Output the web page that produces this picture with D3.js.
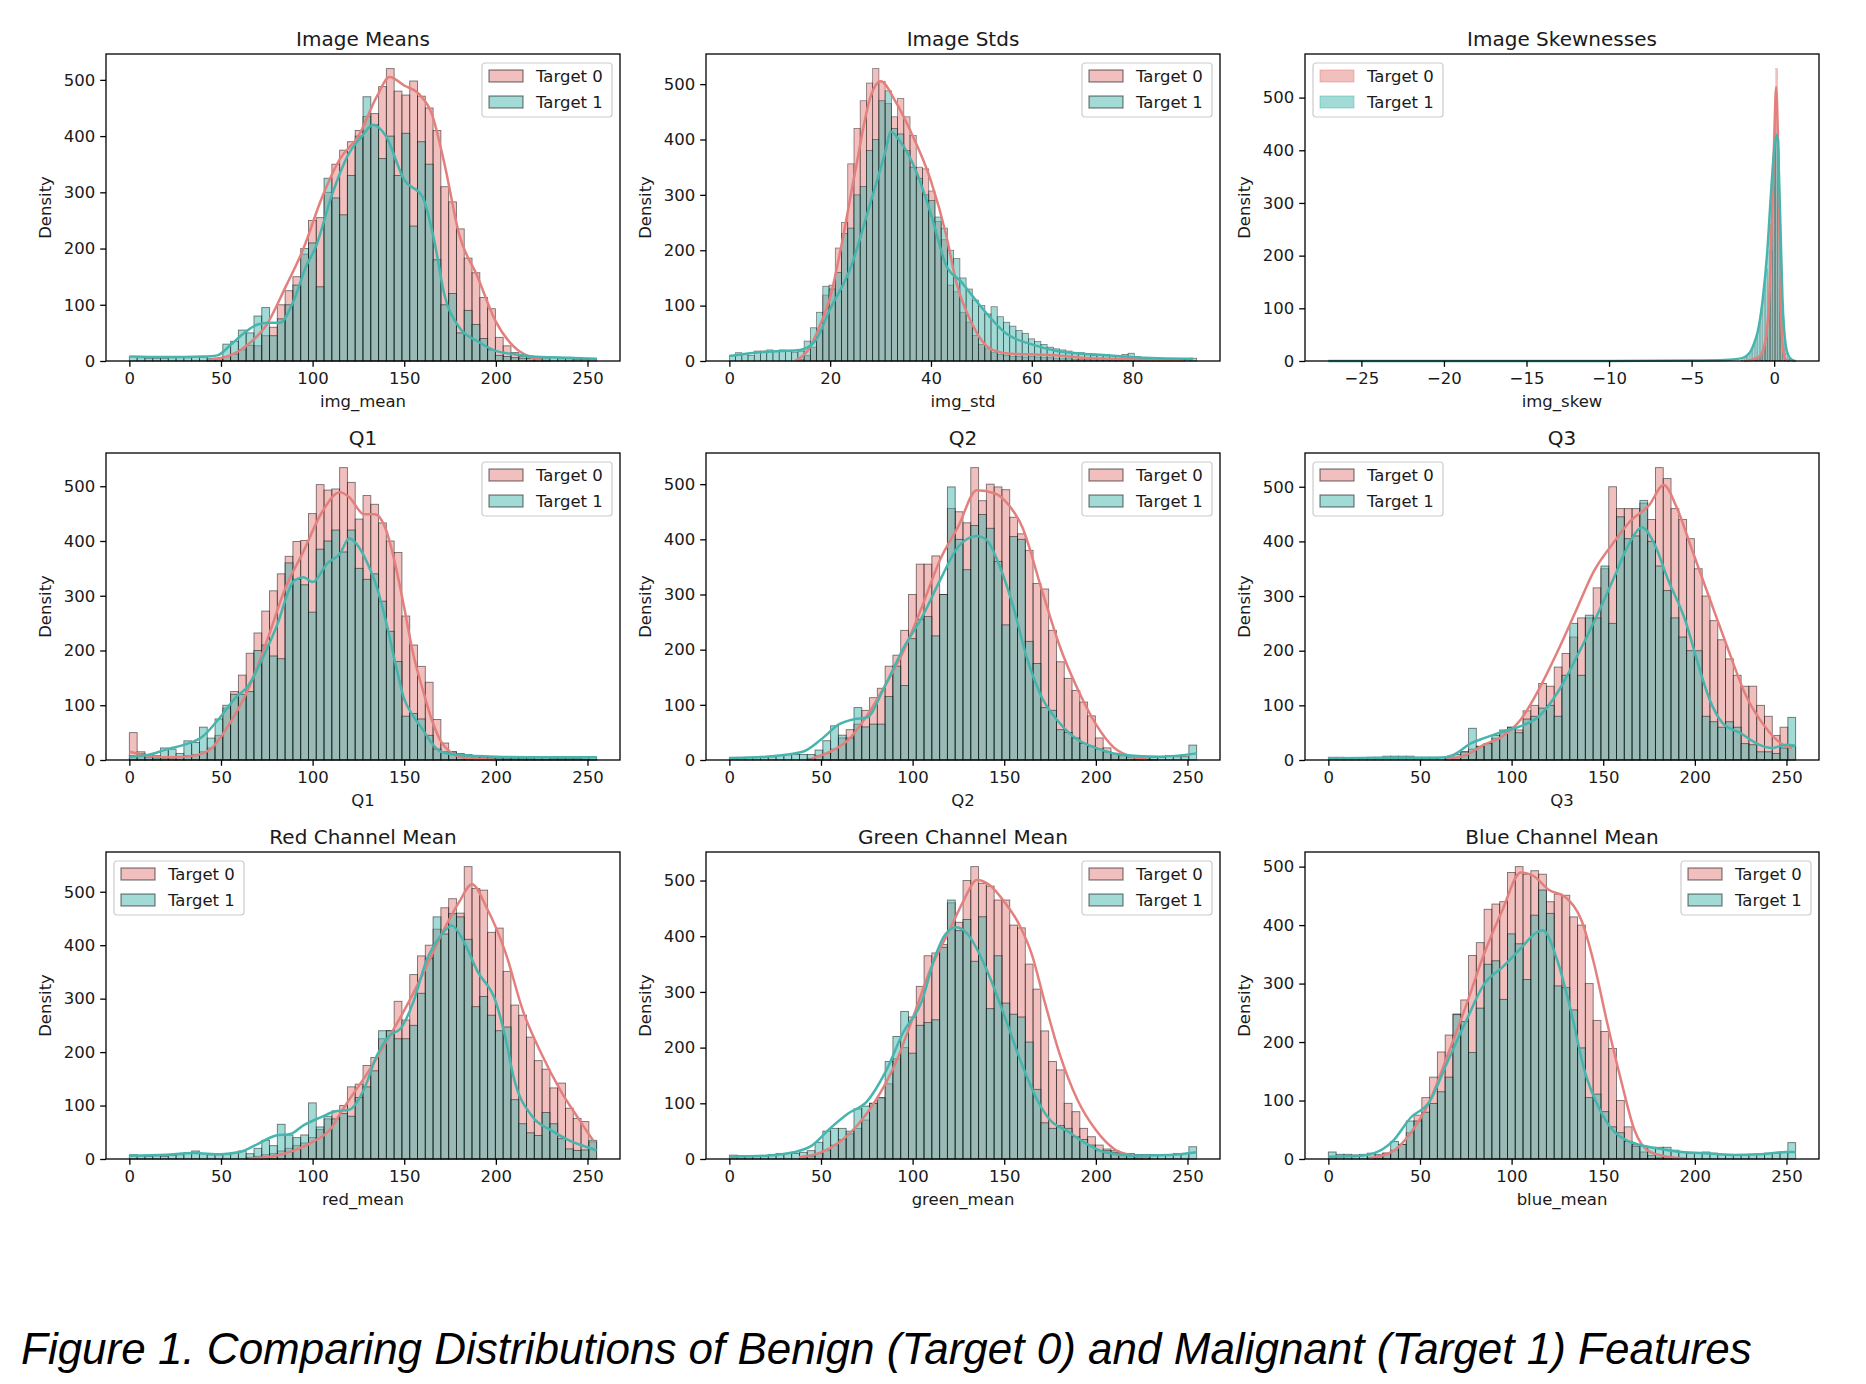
<!DOCTYPE html>
<html>
<head>
<meta charset="utf-8">
<script src="https://cdn.jsdelivr.net/npm/d3@7"></script>
<style>
  body { margin: 0; background: #fff; }
  text { font-family: "DejaVu Sans", sans-serif; fill: #1a1a1a; }
</style>
</head>
<body>
<svg id="fig" width="1866" height="1384"></svg>
<script>
// titles and labels
const titles = ['Image Means', 'Image Stds', 'Image Skewnesses', 'Q1', 'Q2', 'Q3',
  'Red Channel Mean', 'Green Channel Mean', 'Blue Channel Mean'];
const xLabels = ['img_mean', 'img_std', 'img_skew', 'Q1', 'Q2', 'Q3', 'red_mean', 'green_mean', 'blue_mean'];
const seriesNames = ['Target 0', 'Target 1'];
const caption = 'Figure 1. Comparing Distributions of Benign (Target 0) and Malignant (Target 1) Features';

// tick labels
const pixelTicks = [0, 50, 100, 150, 200, 250];
const stdTicks = [0, 20, 40, 60, 80];
const skewTicks = [-25, -20, -15, -10, -5, 0];
const yTicks = [0, 100, 200, 300, 400, 500];

// bin layouts (first edge, bin width)
const pixelBins = { start: 0, width: 4.25 };
const stdBins = { start: 0, width: 1.236 };
const skewBins = { start: -2.0, width: 0.1 };

// bar heights, Target 0 / Target 1
const meanT0 = [0,0,0,0,0,0,0,0,0,0, 2,4,8,12,20,28,27,45,60,100, 125,150,190,250,255,300,350,375,390,410,
  435,440,488,520,480,473,498,471,450,410, 310,283,235,183,157,113,93,42,27,15, 8,5,3,1,0,0,0,0,0,0];
const meanT1 = [8,6,5,5,5,6,8,6,8,7, 5,5,30,35,55,50,80,95,45,75, 100,135,200,210,132,325,290,260,330,400,
  470,420,360,400,330,405,240,390,350,180, 100,120,50,90,65,40,20,10,8,6, 5,5,4,4,7,4,4,3,3,4];
const stdT0 = [0,0,0,0,0,0,0,0,0,0, 0,3,10,25,55,119,137,204,250,356, 420,470,502,528,505,465,441,474,441,407,
  350,347,307,252,219,137,125,88,70,46, 30,22,15,12,10,8,8,7,8,7, 6,6,5,4,4,3,3,3,2,2,
  2,2,1,1,2,2,2,1,1,1, 1,0,0,0,0];
const stdT1 = [10,15,12,10,18,18,20,18,20,18, 16,18,36,60,88,135,130,160,230,240, 300,315,380,400,470,488,420,410,380,350,
  330,300,290,260,240,200,185,150,130,110, 100,85,98,80,70,63,55,50,40,35, 30,25,22,20,18,15,15,12,10,10,
  12,10,8,12,14,8,5,4,4,3, 3,3,3,3,5];
const skewT0 = [0,0,0,0,1,1,2,2,3,4, 5,8,12,18,30,45,80,130,210,330, 470,555,420,230,90,25,6,2,1,0, 0,0,0];
const skewT1 = [2,3,5,7,10,15,22,30,40,50, 60,80,100,125,150,175,210,260,320,380, 410,425,400,300,170,80,35,15,6,3, 2,1,1];
const q1T0 = [50,15,5,3,3,3,5,8,10,15, 22,45,95,125,155,195,232,272,309,340, 372,399,401,450,503,493,495,534,507,440,
  483,467,433,400,379,263,210,171,142,74, 31,15,10,8,5,4,3,3,2,2, 2,2,1,1,1,1,1,1,1,1];
const q1T1 = [8,12,10,8,22,20,12,35,32,60, 40,75,100,120,120,125,200,210,190,185, 360,330,320,270,385,400,420,380,420,350,
  330,340,290,235,180,80,85,75,45,20, 15,15,12,10,8,6,5,5,4,4, 4,4,4,4,3,3,3,3,4,6];
const q2T0 = [0,0,0,0,0,0,0,0,0,0, 3,8,12,20,40,55,65,90,113,130, 170,190,235,300,355,355,370,300,456,450,
  430,530,470,500,495,490,440,410,380,320, 310,235,178,148,126,105,80,40,22,12, 8,5,3,2,1,0,0,0,0,0];
const q2T1 = [5,5,5,5,5,6,8,10,10,10, 10,18,35,62,45,40,95,60,65,65, 115,170,135,220,255,260,225,300,495,400,
  345,425,445,420,360,245,405,400,215,175, 95,90,55,50,40,30,25,20,15,12, 8,8,6,6,5,5,8,6,6,27];
const q3T0 = [0,0,0,0,0,0,0,0,0,0, 0,0,0,0,0,2,5,15,20,25, 30,40,50,60,55,90,100,140,135,170,
  195,225,260,260,315,350,500,460,460,460, 470,440,535,515,460,440,405,350,300,255, 220,185,155,135,135,100,80,45,60,25];
const q3T1 = [5,5,4,4,4,5,5,7,7,7, 7,5,5,5,5,5,10,15,58,25, 30,45,55,60,50,75,80,95,100,80,
  155,250,155,265,260,355,250,445,405,410, 475,400,355,310,260,225,200,200,80,70, 60,70,60,30,28,15,15,12,22,78];
const redT0 = [0,0,0,0,0,0,0,0,0,0, 0,0,0,0,0,3,5,8,10,15, 20,25,30,40,55,75,90,100,135,140,
  175,190,225,240,295,260,345,380,400,430, 470,487,460,547,506,503,424,432,351,288, 269,228,184,168,133,142,95,76,70,32];
const redT1 = [8,6,5,6,5,7,8,12,15,10, 8,8,10,12,15,10,20,35,25,65, 45,40,45,105,60,80,75,85,80,115,
  135,165,240,240,225,225,250,310,375,453, 421,459,453,411,285,304,269,240,247,111, 66,49,44,87,66,38,19,16,17,35];
const greenT0 = [0,0,0,0,0,0,0,0,0,3, 5,10,15,25,35,45,55,70,100,110, 135,180,200,255,310,365,370,385,460,425,
  500,525,495,490,465,465,420,415,350,305, 230,175,160,100,85,55,40,25,18,15, 8,5,3,2,0,0,0,0,0,0];
const greenT1 = [7,6,6,6,6,8,10,10,10,12, 15,30,50,55,55,50,90,95,100,110, 175,220,265,190,240,245,250,380,465,410,
  430,355,435,270,365,280,260,255,210,125, 65,55,60,55,40,35,25,15,15,12, 10,10,8,8,8,7,8,10,10,22];
const blueT0 = [0,0,0,0,0,3,5,10,15,25, 45,75,105,140,183,212,248,272,348,370, 427,436,440,490,500,487,493,487,440,453,
  451,414,400,300,237,218,189,100,55,25, 12,6,3,2,1,0,0,0,0,0, 0,0,0,0,0,0,0,0,0,0];
const blueT1 = [12,8,8,7,8,10,8,10,30,25, 65,65,80,95,115,140,247,235,182,258, 333,339,273,385,368,307,417,460,420,296,
  293,255,190,105,111,81,55,45,30,22, 22,20,20,20,15,12,10,10,12,10, 8,8,7,7,8,8,10,10,12,28];

// kde curves [x, y], Target 0 / Target 1
const meanKde0 = [[45,3],[55,10],[65,30],[75,65],[85,130],[95,200],[105,290],[115,360],[125,400],[135,470],[142,505],
  [150,490],[158,475],[165,440],[172,350],[180,225],[190,150],[200,70],[210,25],[218,8],[225,2]];
const meanKde1 = [[0,8],[20,7],[40,8],[48,10],[55,28],[62,48],[70,65],[76,68],[82,68],[90,110],[96,165],[102,205],
  [110,290],[120,370],[127,400],[133,420],[140,400],[150,322],[160,292],[166,220],[172,117],[180,60],[190,35],[200,18],
  [210,12],[225,7],[240,6],[255,4]];
const stdKde0 = [[13,0],[16,25],[18,65],[20,115],[22,198],[25,344],[28,477],[30,505],[33,468],[36,414],[40,325],[43,228],
  [45,143],[48,70],[52,21],[56,13],[60,12],[65,10],[70,6],[80,3],[90,1]];
const stdKde1 = [[0,9],[5,15],[10,18],[14,20],[17,36],[20,94],[24,167],[28,286],[31,380],[32,414],[34,395],[37,344],
  [40,265],[43,173],[46,143],[50,97],[55,49],[60,30],[65,18],[72,12],[80,7],[92,4]];
const skewKde0 = [[-1.8,0],[-1.2,4],[-0.8,12],[-0.5,45],[-0.3,120],[-0.15,260],[0,420],[0.12,520],[0.25,390],[0.4,110],
  [0.55,20],[0.7,3],[0.9,0]];
const skewKde1 = [[-27,0],[-20,0],[-10,0],[-5,1],[-3,2],[-2,5],[-1.5,15],[-1.2,35],[-1,55],[-0.7,115],[-0.4,215],
  [-0.2,315],[0,400],[0.18,430],[0.35,290],[0.5,120],[0.7,30],[0.9,8],[1.1,2],[1.3,0]];
const q1Kde0 = [[0,15],[10,8],[20,5],[30,6],[40,12],[45,22],[55,68],[65,130],[75,217],[85,313],[95,381],[105,452],
  [115,489],[120,480],[128,449],[134,449],[140,421],[145,359],[150,278],[155,192],[160,130],[165,74],[170,34],[175,15],
  [180,6],[190,2],[200,0]];
const q1Kde1 = [[0,6],[10,9],[20,19],[30,28],[40,43],[50,80],[58,114],[65,136],[70,167],[80,241],[90,328],[95,334],
  [100,325],[108,359],[115,377],[120,405],[125,390],[130,359],[135,316],[140,254],[145,179],[150,111],[155,80],[160,56],
  [165,31],[170,15],[180,9],[200,6],[230,5],[255,5]];
const q2Kde0 = [[45,3],[55,15],[65,37],[75,80],[85,135],[95,197],[105,277],[115,363],[125,424],[135,489],[145,483],
  [152,464],[160,421],[170,314],[180,209],[190,129],[200,65],[210,22],[220,6],[228,2]];
const q2Kde1 = [[0,3],[20,6],[40,15],[50,37],[60,65],[68,74],[75,77],[85,135],[95,203],[105,258],[115,326],[125,387],
  [135,406],[140,400],[148,347],[155,277],[162,189],[170,117],[180,68],[190,37],[200,22],[215,9],[235,6],[255,12]];
const q3Kde0 = [[65,2],[75,9],[85,28],[95,43],[105,74],[115,130],[125,198],[135,272],[145,346],[155,395],[165,438],
  [175,466],[183,503],[190,463],[198,389],[208,296],[218,204],[228,117],[238,62],[248,28],[253,22]];
const q3Kde1 = [[0,3],[30,4],[60,4],[68,9],[78,31],[85,40],[95,52],[105,62],[115,80],[125,123],[135,185],[145,253],
  [155,327],[165,401],[171,426],[178,395],[185,333],[195,253],[202,173],[208,111],[215,68],[225,49],[235,28],[242,22],
  [250,28],[255,26]];
const redKde0 = [[65,1],[80,6],[90,16],[100,32],[110,57],[115,85],[120,111],[130,161],[140,218],[150,278],[160,345],
  [170,418],[180,481],[187,514],[195,470],[205,389],[215,275],[225,196],[235,130],[245,76],[253,35]];
const redKde1 = [[0,6],[20,8],[35,11],[50,9],[60,13],[70,28],[80,44],[88,47],[95,63],[105,79],[112,89],[120,92],
  [128,130],[135,193],[142,231],[148,244],[155,294],[162,370],[170,418],[176,437],[182,410],[190,351],[200,294],
  [205,230],[210,149],[220,79],[230,54],[240,35],[250,22],[255,16]];
const greenKde0 = [[38,3],[50,12],[60,30],[70,61],[80,106],[90,167],[100,252],[110,343],[120,410],[128,465],[135,501],
  [142,492],[150,462],[158,422],[165,368],[172,283],[180,191],[190,106],[200,52],[210,18],[220,6],[228,2]];
const greenKde1 = [[0,4],[20,6],[35,12],[45,24],[55,55],[65,82],[75,103],[85,155],[95,228],[105,283],[112,361],
  [118,404],[124,416],[130,404],[140,343],[150,258],[160,167],[168,106],[175,70],[185,49],[195,27],[205,12],[220,6],
  [240,7],[255,12]];
const blueKde0 = [[22,1],[35,13],[45,45],[55,97],[65,177],[75,261],[85,351],[95,426],[105,490],[112,484],[120,461],
  [130,446],[138,409],[145,334],[152,235],[160,131],[167,50],[175,13],[185,4],[195,1]];
const blueKde1 = [[0,4],[15,5],[25,10],[35,30],[45,71],[55,97],[65,166],[75,235],[85,299],[95,328],[105,360],[113,386],
  [117,391],[125,339],[132,258],[140,149],[148,85],[155,50],[162,33],[170,24],[180,18],[190,13],[205,10],[220,7],
  [235,8],[250,12],[255,12]];

const panels = [
  { bins: pixelBins, bars: [meanT0, meanT1], kde: [meanKde0, meanKde1], ticks: pixelTicks, legend: 'right' },
  { bins: stdBins, bars: [stdT0, stdT1], kde: [stdKde0, stdKde1], ticks: stdTicks, legend: 'right' },
  { bins: skewBins, bars: [skewT0, skewT1], kde: [skewKde0, skewKde1], ticks: skewTicks, legend: 'left', plain: true },
  { bins: pixelBins, bars: [q1T0, q1T1], kde: [q1Kde0, q1Kde1], ticks: pixelTicks, legend: 'right' },
  { bins: pixelBins, bars: [q2T0, q2T1], kde: [q2Kde0, q2Kde1], ticks: pixelTicks, legend: 'right' },
  { bins: pixelBins, bars: [q3T0, q3T1], kde: [q3Kde0, q3Kde1], ticks: pixelTicks, legend: 'left' },
  { bins: pixelBins, bars: [redT0, redT1], kde: [redKde0, redKde1], ticks: pixelTicks, legend: 'left' },
  { bins: pixelBins, bars: [greenT0, greenT1], kde: [greenKde0, greenKde1], ticks: pixelTicks, legend: 'right' },
  { bins: pixelBins, bars: [blueT0, blueT1], kde: [blueKde0, blueKde1], ticks: pixelTicks, legend: 'right' }
];

const colors = ['#e3807d', '#45b5ad'];
const colLeft = [106, 706, 1305];
const rowTop = [54, 453, 852];
const W = 514, H = 307;
const fs = 16.5;

const svg = d3.select('#fig');

panels.forEach((p, idx) => {
  const g = svg.append('g')
    .attr('transform', `translate(${colLeft[idx % 3]},${rowTop[Math.floor(idx / 3)]})`);

  const n = p.bars[0].length;
  const binHi = p.bins.start + n * p.bins.width;
  const kdeX = p.kde.flat().map(d => d[0]);
  const lo = Math.min(p.bins.start, d3.min(kdeX));
  const hi = Math.max(binHi, d3.max(kdeX));
  const pad = (hi - lo) * 0.05;
  const x = d3.scaleLinear().domain([lo - pad, hi + pad]).range([0, W]);
  const top = d3.max([...p.bars[0], ...p.bars[1], ...p.kde.flat().map(d => d[1])]);
  const y = d3.scaleLinear().domain([0, top * 1.05]).range([H, 0]);

  const barPx = x(p.bins.width) - x(0);
  const lw = Math.min(1, barPx * 0.12);

  // bars
  p.bars.forEach((vals, s) => {
    const rows = vals.map((v, i) => ({ x0: p.bins.start + i * p.bins.width, x1: p.bins.start + (i + 1) * p.bins.width, v }))
      .filter(d => d.v > 0);
    g.append('g').selectAll('rect')
      .data(rows)
      .enter()
      .append('rect')
      .attr('x', d => x(d.x0))
      .attr('width', d => x(d.x1) - x(d.x0))
      .attr('y', d => y(d.v))
      .attr('height', d => H - y(d.v))
      .attr('fill', colors[s])
      .attr('fill-opacity', 0.5)
      .attr('stroke', '#000')
      .attr('stroke-opacity', 0.5)
      .attr('stroke-width', lw);
  });

  // kde lines
  const line = d3.line().x(d => x(d[0])).y(d => y(d[1])).curve(d3.curveMonotoneX);
  p.kde.forEach((pts, s) => {
    g.append('path')
      .attr('d', line(pts))
      .attr('fill', 'none')
      .attr('stroke', colors[s])
      .attr('stroke-width', 2.5);
  });

  // axes
  const xAxis = g.append('g').attr('transform', `translate(0,${H})`)
    .call(d3.axisBottom(x).tickValues(p.ticks).tickSize(5.8).tickPadding(5));
  const yAxis = g.append('g')
    .call(d3.axisLeft(y).tickValues(yTicks).tickSize(5.8).tickPadding(5));
  [xAxis, yAxis].forEach(a => {
    a.select('.domain').remove();
    a.selectAll('line').attr('stroke', '#000').attr('stroke-width', 1.3);
    a.selectAll('text').attr('font-size', fs).attr('font-family', '"DejaVu Sans", sans-serif').attr('fill', '#1a1a1a');
  });

  g.append('rect')
    .attr('width', W).attr('height', H)
    .attr('fill', 'none').attr('stroke', '#000').attr('stroke-width', 1.3);

  g.append('text')
    .attr('x', W / 2).attr('y', -8)
    .attr('text-anchor', 'middle')
    .attr('font-size', 20)
    .text(titles[idx]);

  g.append('text')
    .attr('x', W / 2).attr('y', H + 46)
    .attr('text-anchor', 'middle')
    .attr('font-size', fs)
    .text(xLabels[idx]);

  g.append('text')
    .attr('transform', `translate(-61,${H / 2}) rotate(-90)`)
    .attr('text-anchor', 'middle')
    .attr('dy', '0.35em')
    .attr('font-size', fs)
    .text('Density');

  // legend
  const lgW = 130, lgH = 54;
  const lgX = p.legend === 'right' ? W - 8 - lgW : 8;
  const lg = g.append('g').attr('transform', `translate(${lgX},9)`);
  lg.append('rect')
    .attr('width', lgW).attr('height', lgH).attr('rx', 3)
    .attr('fill', '#fff').attr('fill-opacity', 0.8)
    .attr('stroke', '#cccccc').attr('stroke-width', 1.2);
  seriesNames.forEach((name, s) => {
    const cy = 13 + s * 26;
    lg.append('rect')
      .attr('x', 7).attr('y', cy - 6).attr('width', 34).attr('height', 12)
      .attr('fill', colors[s]).attr('fill-opacity', 0.5)
      .attr('stroke', p.plain ? colors[s] : '#000')
      .attr('stroke-opacity', p.plain ? 0.4 : 0.5)
      .attr('stroke-width', 1.2);
    lg.append('text')
      .attr('x', 54).attr('y', cy)
      .attr('dy', '0.36em')
      .attr('font-size', fs)
      .text(name);
  });
});

svg.append('text')
  .attr('x', 21).attr('y', 1364)
  .attr('font-style', 'italic')
  .attr('font-size', 44)
  .style('font-family', '"Liberation Sans", Arial, sans-serif')
  .style('fill', '#000')
  .text(caption);
</script>
</body>
</html>
